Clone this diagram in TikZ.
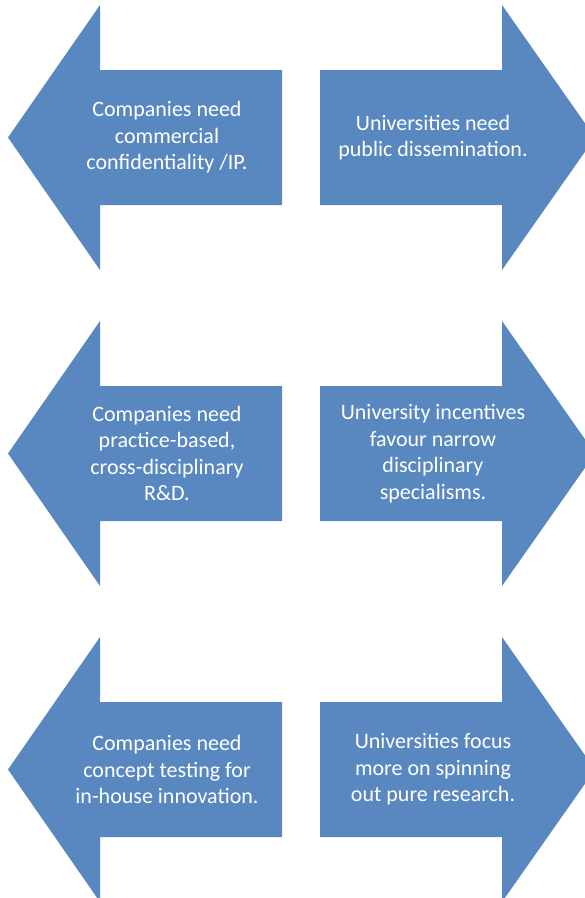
\documentclass[tikz,border=0pt]{standalone}
\usepackage{fontspec}
\setmainfont{Carlito}
\usepackage{xcolor}
\definecolor{officeblue}{RGB}{89,136,192}
\usepackage{tikz}
\usetikzlibrary{positioning}

\begin{document}
\begin{tikzpicture}[
    x=1pt, y=-1pt,
    block/.style={fill=officeblue, draw=none},
    boxtext/.style={text=white, align=center, inner sep=0pt,
                    font=\fontsize{22}{26.5}\selectfont}
  ]
  \useasboundingbox (0,0) rectangle (585,898);
  \clip (0,0) rectangle (585,898);

  % three rows of opposing arrows, 316 apart
  \foreach \r/\lt/\rt in {%
      0/{Companies need\\commercial\\confidentiality /IP.}/{Universities need\\public dissemination.},
      1/{Companies need\\practice-based,\\cross-disciplinary\\R\&D.}/{University incentives\\favour narrow\\disciplinary\\specialisms.},
      2/{Companies need\\concept testing for\\in-house innovation.}/{Universities focus\\more on spinning\\out pure research.}} {
    \begin{scope}[yshift={-316*\r pt}]
      % left-pointing arrow (companies)
      \fill[block] (8,137.5) -- (100,5) -- (100,70) -- (282,70)
        -- (282,205) -- (100,205) -- (100,270) -- cycle;
      \node[boxtext] (comp\r) at (167,137.5) {\lt};

      % right-pointing arrow (universities)
      \fill[block] (595,137.5) -- (502,5) -- (502,70) -- (320,70)
        -- (320,205) -- (502,205) -- (502,270) -- cycle;
      \node[boxtext] (univ\r) at (433,137.5) {\rt};
    \end{scope}
  }
\end{tikzpicture}
\end{document}
